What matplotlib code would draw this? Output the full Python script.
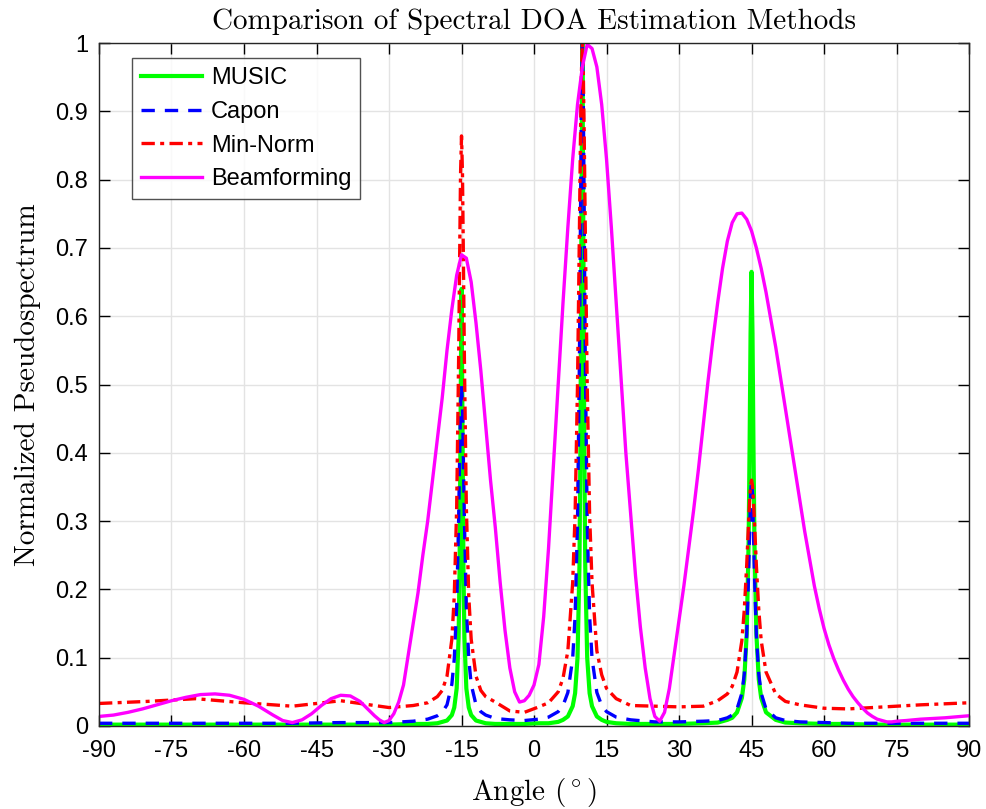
import matplotlib
matplotlib.use("Agg")
import matplotlib.pyplot as plt
import numpy as np

plt.rcParams["mathtext.fontset"] = "cm"
plt.rcParams["axes.unicode_minus"] = False

# 공통 각도 격자 (MUSIC / Capon / Min-Norm) — 피크 근처는 촘촘하게
peak_ang = [
    -90, -80, -70, -60, -50, -40, -30, -25,
    -22, -20, -19, -18, -17, -16.5, -16, -15.6,
    -15.4, -15.2, -15, -14.8, -14.6, -14.4, -14, -13.5,
    -13, -12, -11, -10, -8, -5, -2, 1,
    3, 5, 6, 7, 8, 8.5, 9, 9.4,
    9.6, 9.8, 10, 10.2, 10.4, 10.6, 11, 11.5,
    12, 13, 14, 15, 17, 20, 25, 30,
    35, 38, 40, 41, 42, 43, 43.5, 44,
    44.4, 44.6, 44.8, 45, 45.2, 45.4, 45.6, 46,
    46.5, 47, 48, 50, 52, 55, 60, 65,
    70, 80, 90,
]

music = [
    0.002, 0.002, 0.002, 0.002, 0.002, 0.002, 0.002, 0.003,
    0.003, 0.004, 0.006, 0.008, 0.016, 0.027, 0.055, 0.13,
    0.23, 0.443, 0.64, 0.443, 0.23, 0.13, 0.055, 0.027,
    0.016, 0.008, 0.006, 0.004, 0.003, 0.003, 0.003, 0.004,
    0.004, 0.006, 0.009, 0.014, 0.029, 0.048, 0.10, 0.234,
    0.41, 0.73, 1.0, 0.73, 0.41, 0.234, 0.10, 0.048,
    0.029, 0.014, 0.009, 0.006, 0.004, 0.003, 0.003, 0.003,
    0.004, 0.005, 0.009, 0.012, 0.02, 0.041, 0.068, 0.135,
    0.27, 0.41, 0.575, 0.665, 0.575, 0.41, 0.27, 0.135,
    0.068, 0.041, 0.02, 0.009, 0.005, 0.004, 0.003, 0.003,
    0.002, 0.002, 0.002,
]

capon = [
    0.004, 0.004, 0.004, 0.004, 0.004, 0.005, 0.005, 0.007,
    0.010, 0.015, 0.020, 0.031, 0.061, 0.098, 0.175, 0.30,
    0.386, 0.468, 0.50, 0.468, 0.386, 0.30, 0.175, 0.098,
    0.061, 0.031, 0.021, 0.016, 0.011, 0.009, 0.008, 0.010,
    0.013, 0.021, 0.030, 0.049, 0.099, 0.161, 0.30, 0.54,
    0.73, 0.915, 1.0, 0.915, 0.73, 0.54, 0.30, 0.161,
    0.099, 0.049, 0.030, 0.021, 0.013, 0.009, 0.006, 0.006,
    0.007, 0.008, 0.012, 0.016, 0.025, 0.048, 0.076, 0.133,
    0.223, 0.284, 0.34, 0.36, 0.34, 0.284, 0.223, 0.133,
    0.076, 0.048, 0.025, 0.012, 0.008, 0.006, 0.005, 0.004,
    0.004, 0.004, 0.004,
]

min_norm = [
    0.033, 0.036, 0.040, 0.034, 0.029, 0.037, 0.027, 0.030,
    0.034, 0.043, 0.052, 0.073, 0.127, 0.19, 0.32, 0.535,
    0.677, 0.808, 0.864, 0.808, 0.677, 0.535, 0.32, 0.19,
    0.127, 0.073, 0.052, 0.043, 0.035, 0.022, 0.020, 0.028,
    0.034, 0.05, 0.07, 0.11, 0.21, 0.31, 0.50, 0.73,
    0.855, 0.955, 1.0, 0.955, 0.855, 0.73, 0.50, 0.31,
    0.21, 0.11, 0.075, 0.055, 0.04, 0.03, 0.029, 0.028,
    0.029, 0.037, 0.047, 0.058, 0.079, 0.125, 0.17, 0.235,
    0.30, 0.33, 0.352, 0.36, 0.352, 0.33, 0.30, 0.235,
    0.17, 0.125, 0.079, 0.047, 0.036, 0.031, 0.026, 0.025,
    0.027, 0.031, 0.034,
]

# Beamforming은 넓은 로브라 별도 격자 (1도 간격)
bf_ang = [
    -90, -87, -84, -81, -78, -75, -72, -69, -66, -63,
    -60, -57, -54, -52, -50, -48, -46, -44, -42, -40,
    -38, -36, -34, -33, -32, -31, -30, -29, -28, -27,
    -26, -25, -24, -23, -22, -21, -20, -19, -18, -17,
    -16, -15, -14, -13, -12, -11, -10, -9, -8, -7,
    -6, -5, -4, -3, -2, -1, 0, 1, 2, 3,
    4, 5, 6, 7, 8, 9, 10, 11, 12, 13,
    14, 15, 16, 17, 18, 19, 20, 21, 22, 23,
    24, 25, 26, 27, 28, 29, 30, 31, 32, 33,
    34, 35, 36, 37, 38, 39, 40, 41, 42, 43,
    44, 45, 46, 47, 48, 49, 50, 51, 52, 53,
    54, 55, 56, 57, 58, 59, 60, 61, 62, 63,
    64, 65, 66, 67, 68, 69, 70, 71, 72, 73,
    74, 75, 77, 80, 85, 90,
]

beamforming = [
    0.014, 0.016, 0.020, 0.025, 0.031, 0.037, 0.042, 0.046, 0.047, 0.045,
    0.039, 0.029, 0.016, 0.008, 0.005, 0.009, 0.018, 0.030, 0.040, 0.045,
    0.044, 0.036, 0.022, 0.015, 0.009, 0.005, 0.008, 0.018, 0.035, 0.060,
    0.105, 0.15, 0.195, 0.25, 0.30, 0.36, 0.42, 0.48, 0.55, 0.61,
    0.66, 0.69, 0.685, 0.65, 0.59, 0.52, 0.44, 0.36, 0.29, 0.21,
    0.14, 0.085, 0.05, 0.035, 0.037, 0.045, 0.06, 0.09, 0.16, 0.26,
    0.38, 0.50, 0.62, 0.73, 0.83, 0.91, 0.965, 0.998, 0.992, 0.965,
    0.91, 0.83, 0.73, 0.62, 0.51, 0.40, 0.31, 0.22, 0.145, 0.085,
    0.04, 0.014, 0.007, 0.02, 0.055, 0.105, 0.155, 0.205, 0.26, 0.315,
    0.375, 0.44, 0.505, 0.565, 0.62, 0.67, 0.71, 0.737, 0.75, 0.751,
    0.742, 0.725, 0.70, 0.67, 0.635, 0.595, 0.555, 0.51, 0.465, 0.42,
    0.375, 0.33, 0.285, 0.245, 0.205, 0.172, 0.143, 0.119, 0.099, 0.082,
    0.067, 0.054, 0.043, 0.034, 0.026, 0.019, 0.014, 0.010, 0.008, 0.006,
    0.006, 0.007, 0.008, 0.010, 0.012, 0.015,
]

x_ticks = list(range(-90, 91, 15))
y_ticks = [0, 0.1, 0.2, 0.3, 0.4, 0.5, 0.6, 0.7, 0.8, 0.9, 1]

fig = plt.figure(figsize=(9.86, 8.09), dpi=100)
ax = fig.add_axes([0.1004, 0.1026, 0.8824, 0.8442])

ax.plot(peak_ang, music, "-", color="#00ff00", lw=3, label="MUSIC")
ax.plot(peak_ang, capon, "--", color="#0000ff", lw=2.4, label="Capon",
        dashes=(4, 3))
ax.plot(peak_ang, min_norm, "-.", color="#ff0000", lw=2.4,
        label="Min-Norm", dashes=(4, 1.6, 1.2, 1.6))
ax.plot(bf_ang, beamforming, "-", color="#ff00ff", lw=2.4,
        label="Beamforming")

ax.set_xlim(-90, 90)
ax.set_ylim(0, 1)
ax.set_xticks(x_ticks)
ax.set_yticks(y_ticks)
ax.set_xticklabels([str(v) for v in x_ticks])
ax.set_yticklabels([f"{v:g}" for v in y_ticks])
ax.tick_params(direction="in", length=8, width=1, top=True, right=True,
               labelsize=17)
ax.tick_params(axis="x", pad=10)
ax.tick_params(axis="y", pad=8)
for lb in ax.get_xticklabels() + ax.get_yticklabels():
    lb.set_fontfamily("Liberation Sans")
ax.grid(True, color="#e3e3e3", lw=1)
ax.set_axisbelow(True)
for s in ax.spines.values():
    s.set_linewidth(1)
    s.set_color("#262626")

ax.set_title("Comparison of Spectral DOA Estimation Methods",
             fontfamily="cmr10", fontsize=21, pad=10)
ax.set_xlabel(r"Angle $(^\circ)$", fontfamily="cmr10", fontsize=21,
              labelpad=10)
ax.set_ylabel("Normalized Pseudospectrum", fontfamily="cmr10",
              fontsize=21, labelpad=10)

leg = ax.legend(loc="upper left", bbox_to_anchor=(0.038, 0.978),
                prop={"family": "Liberation Sans", "size": 17},
                frameon=True, fancybox=False, edgecolor="#262626",
                handlelength=2.6, handletextpad=0.35, borderpad=0.38,
                labelspacing=0.5, borderaxespad=0)
leg.get_frame().set_linewidth(1)

fig.savefig("out.png", dpi=100)
